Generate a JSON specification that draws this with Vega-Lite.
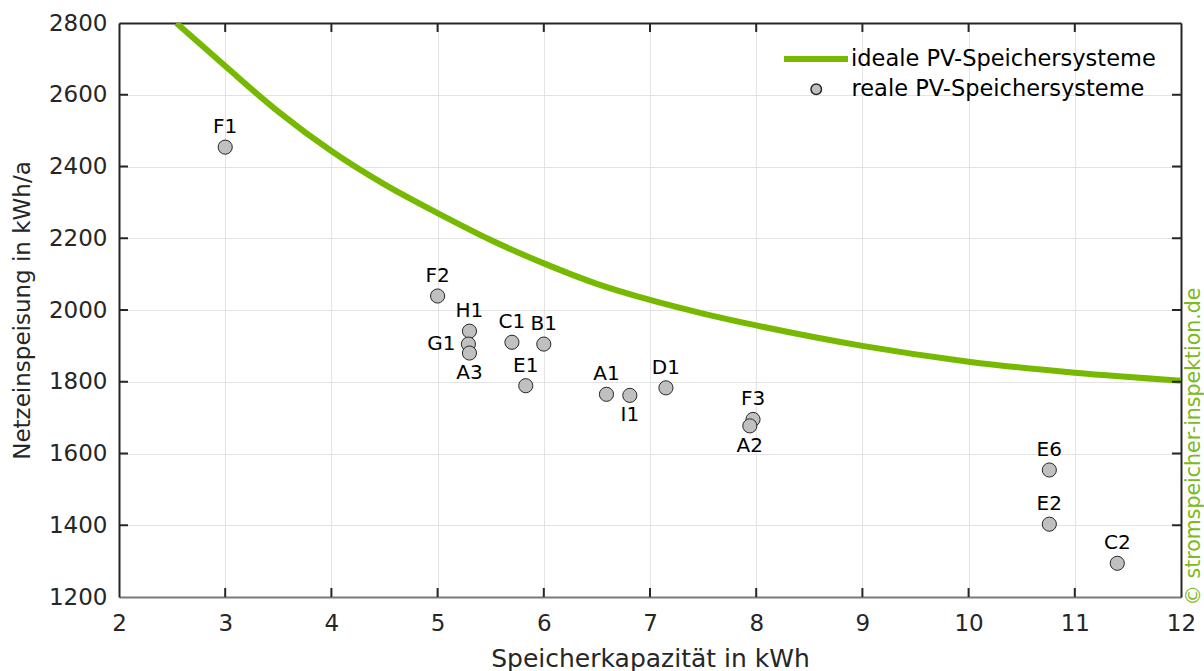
{
  "$schema": "https://vega.github.io/schema/vega-lite/v6.json",
  "width": 1062,
  "height": 574,
  "autosize": "none",
  "padding": {"left": 119, "top": 23, "right": 23, "bottom": 74},
  "background": "white",
  "config": {
    "font": "DejaVu Sans",
    "view": {"stroke": null},
    "axis": {
      "labelFont": "DejaVu Sans",
      "titleFont": "DejaVu Sans",
      "labelFontSize": 23,
      "titleFontSize": 25,
      "titleFontWeight": "normal",
      "labelColor": "#262626",
      "titleColor": "#262626",
      "domain": true,
      "domainColor": "#262626",
      "domainWidth": 2,
      "ticks": false,
      "labelFlush": false,
      "labelOverlap": false,
      "format": "d",
      "gridColor": "#e3e3e3",
      "gridWidth": 1
    },
    "legend": {
      "labelFont": "DejaVu Sans",
      "labelFontSize": 22.5,
      "labelColor": "#000000",
      "labelLimit": 600,
      "padding": 0,
      "orient": "none"
    }
  },
  "datasets": {
    "ideal": [
      {"kap": 2.54, "netz": 2800},
      {"kap": 3.0, "netz": 2680},
      {"kap": 3.5, "netz": 2553},
      {"kap": 4.0, "netz": 2443},
      {"kap": 4.5, "netz": 2350},
      {"kap": 5.0, "netz": 2270},
      {"kap": 5.5, "netz": 2195},
      {"kap": 6.0, "netz": 2130},
      {"kap": 6.5, "netz": 2073},
      {"kap": 7.0, "netz": 2028},
      {"kap": 7.5, "netz": 1990},
      {"kap": 8.0, "netz": 1957},
      {"kap": 9.0, "netz": 1900},
      {"kap": 10.0, "netz": 1856},
      {"kap": 11.0, "netz": 1825},
      {"kap": 12.0, "netz": 1803}
    ],
    "real": [
      {"name": "F1", "kap": 3.0, "netz": 2454},
      {"name": "F2", "kap": 5.0, "netz": 2039},
      {"name": "H1", "kap": 5.30, "netz": 1941},
      {"name": "G1", "kap": 5.29, "netz": 1905},
      {"name": "A3", "kap": 5.30, "netz": 1880},
      {"name": "C1", "kap": 5.70, "netz": 1910},
      {"name": "B1", "kap": 6.00, "netz": 1905},
      {"name": "E1", "kap": 5.83, "netz": 1789},
      {"name": "A1", "kap": 6.59, "netz": 1765},
      {"name": "I1", "kap": 6.81, "netz": 1762},
      {"name": "D1", "kap": 7.15, "netz": 1783},
      {"name": "F3", "kap": 7.97, "netz": 1695},
      {"name": "A2", "kap": 7.94, "netz": 1677},
      {"name": "E6", "kap": 10.76, "netz": 1554},
      {"name": "E2", "kap": 10.76, "netz": 1403},
      {"name": "C2", "kap": 11.40, "netz": 1294}
    ],
    "xticks": [
      {"kap": 3}, {"kap": 4}, {"kap": 5}, {"kap": 6}, {"kap": 7},
      {"kap": 8}, {"kap": 9}, {"kap": 10}, {"kap": 11}
    ],
    "yticks": [
      {"netz": 1400}, {"netz": 1600}, {"netz": 1800}, {"netz": 2000},
      {"netz": 2200}, {"netz": 2400}, {"netz": 2600}
    ]
  },
  "resolve": {"axis": {"x": "independent", "y": "independent"}},
  "layer": [
    {
      "data": {"name": "ideal"},
      "mark": {"type": "line", "strokeWidth": 6, "interpolate": "monotone", "clip": true},
      "encoding": {
        "x": {"field": "kap", "type": "quantitative", "scale": {"domain": [2, 12], "nice": false, "zero": false},
          "axis": {"orient": "bottom", "values": [2,3,4,5,6,7,8,9,10,11,12], "title": "Speicherkapazität in kWh", "titlePadding": 11, "labelPadding": 15, "grid": true, "domainColor": "#7a7a7a"}},
        "y": {"field": "netz", "type": "quantitative", "scale": {"domain": [1200, 2800], "nice": false, "zero": false},
          "axis": {"orient": "left", "values": [1200,1400,1600,1800,2000,2200,2400,2600,2800], "title": "Netzeinspeisung in kWh/a", "titleFontSize": 23, "titlePadding": 14, "labelPadding": 12, "grid": true}},
        "color": {"datum": "ideale PV-Speichersysteme", "type": "nominal", "scale": {"range": ["#77b900"]},
          "legend": {"title": null, "symbolType": "stroke", "symbolStrokeWidth": 6, "symbolSize": 4096, "labelOffset": 0, "legendX": 662, "legendY": 1}}
      }
    },
    {
      "data": {"name": "real"},
      "mark": {"type": "point", "filled": true, "fill": "#c0c0c0", "stroke": "#262626", "strokeWidth": 1, "size": 200, "opacity": 1},
      "encoding": {
        "x": {"field": "kap", "type": "quantitative",
          "axis": {"orient": "top", "values": [2,3,4,5,6,7,8,9,10,11,12], "labels": false, "title": null, "grid": false}},
        "y": {"field": "netz", "type": "quantitative",
          "axis": {"orient": "right", "values": [1200,1400,1600,1800,2000,2200,2400,2600,2800], "labels": false, "grid": false,
            "title": "© stromspeicher-inspektion.de", "titleColor": "#7cba22", "titleFontSize": 20.5, "titleAngle": 270,
            "titleX": 12, "titleY": 423, "titleAlign": "center", "titleBaseline": "middle"}},
        "shape": {"datum": "reale PV-Speichersysteme", "type": "nominal", "scale": {"range": ["circle"]},
          "legend": {"title": null, "symbolType": "circle", "symbolSize": 110, "labelOffset": 24, "legendX": 686, "legendY": 55,
            "encode": {"symbols": {"update": {"fill": {"value": "#c0c0c0"}, "stroke": {"value": "#262626"}, "strokeWidth": {"value": 1}, "opacity": {"value": 1}}}}}}
      }
    },
    {
      "data": {"name": "xticks"},
      "mark": {"type": "rule", "strokeWidth": 2, "color": "#262626", "opacity": 1},
      "encoding": {
        "x": {"field": "kap", "type": "quantitative", "axis": null},
        "y": {"datum": 1200, "type": "quantitative", "axis": null},
        "y2": {"datum": 1225}
      }
    },
    {
      "data": {"name": "xticks"},
      "mark": {"type": "rule", "strokeWidth": 2, "color": "#262626", "opacity": 1},
      "encoding": {
        "x": {"field": "kap", "type": "quantitative", "axis": null},
        "y": {"datum": 2800, "type": "quantitative", "axis": null},
        "y2": {"datum": 2775}
      }
    },
    {
      "data": {"name": "yticks"},
      "mark": {"type": "rule", "strokeWidth": 2, "color": "#262626", "opacity": 1},
      "encoding": {
        "y": {"field": "netz", "type": "quantitative", "axis": null},
        "x": {"datum": 2, "type": "quantitative", "axis": null},
        "x2": {"datum": 2.085}
      }
    },
    {
      "data": {"name": "yticks"},
      "mark": {"type": "rule", "strokeWidth": 2, "color": "#262626", "opacity": 1},
      "encoding": {
        "y": {"field": "netz", "type": "quantitative", "axis": null},
        "x": {"datum": 12, "type": "quantitative", "axis": null},
        "x2": {"datum": 11.915}
      }
    },
    {
      "data": {"name": "real"},
      "transform": [{"filter": {"field": "name", "oneOf": ["F1","F2","H1","C1","B1","E1","A1","D1","F3","E6","E2","C2"]}}],
      "mark": {"type": "text", "fontSize": 20, "color": "#000000", "dy": -20, "baseline": "middle", "align": "center"},
      "encoding": {
        "x": {"field": "kap", "type": "quantitative", "axis": null},
        "y": {"field": "netz", "type": "quantitative", "axis": null},
        "text": {"field": "name"}
      }
    },
    {
      "data": {"name": "real"},
      "transform": [{"filter": {"field": "name", "oneOf": ["A3","I1","A2"]}}],
      "mark": {"type": "text", "fontSize": 20, "color": "#000000", "dy": 20, "baseline": "middle", "align": "center"},
      "encoding": {
        "x": {"field": "kap", "type": "quantitative", "axis": null},
        "y": {"field": "netz", "type": "quantitative", "axis": null},
        "text": {"field": "name"}
      }
    },
    {
      "data": {"name": "real"},
      "transform": [{"filter": {"field": "name", "oneOf": ["G1"]}}],
      "mark": {"type": "text", "fontSize": 20, "color": "#000000", "dx": -13, "baseline": "middle", "align": "right"},
      "encoding": {
        "x": {"field": "kap", "type": "quantitative", "axis": null},
        "y": {"field": "netz", "type": "quantitative", "axis": null},
        "text": {"field": "name"}
      }
    }
  ]
}
